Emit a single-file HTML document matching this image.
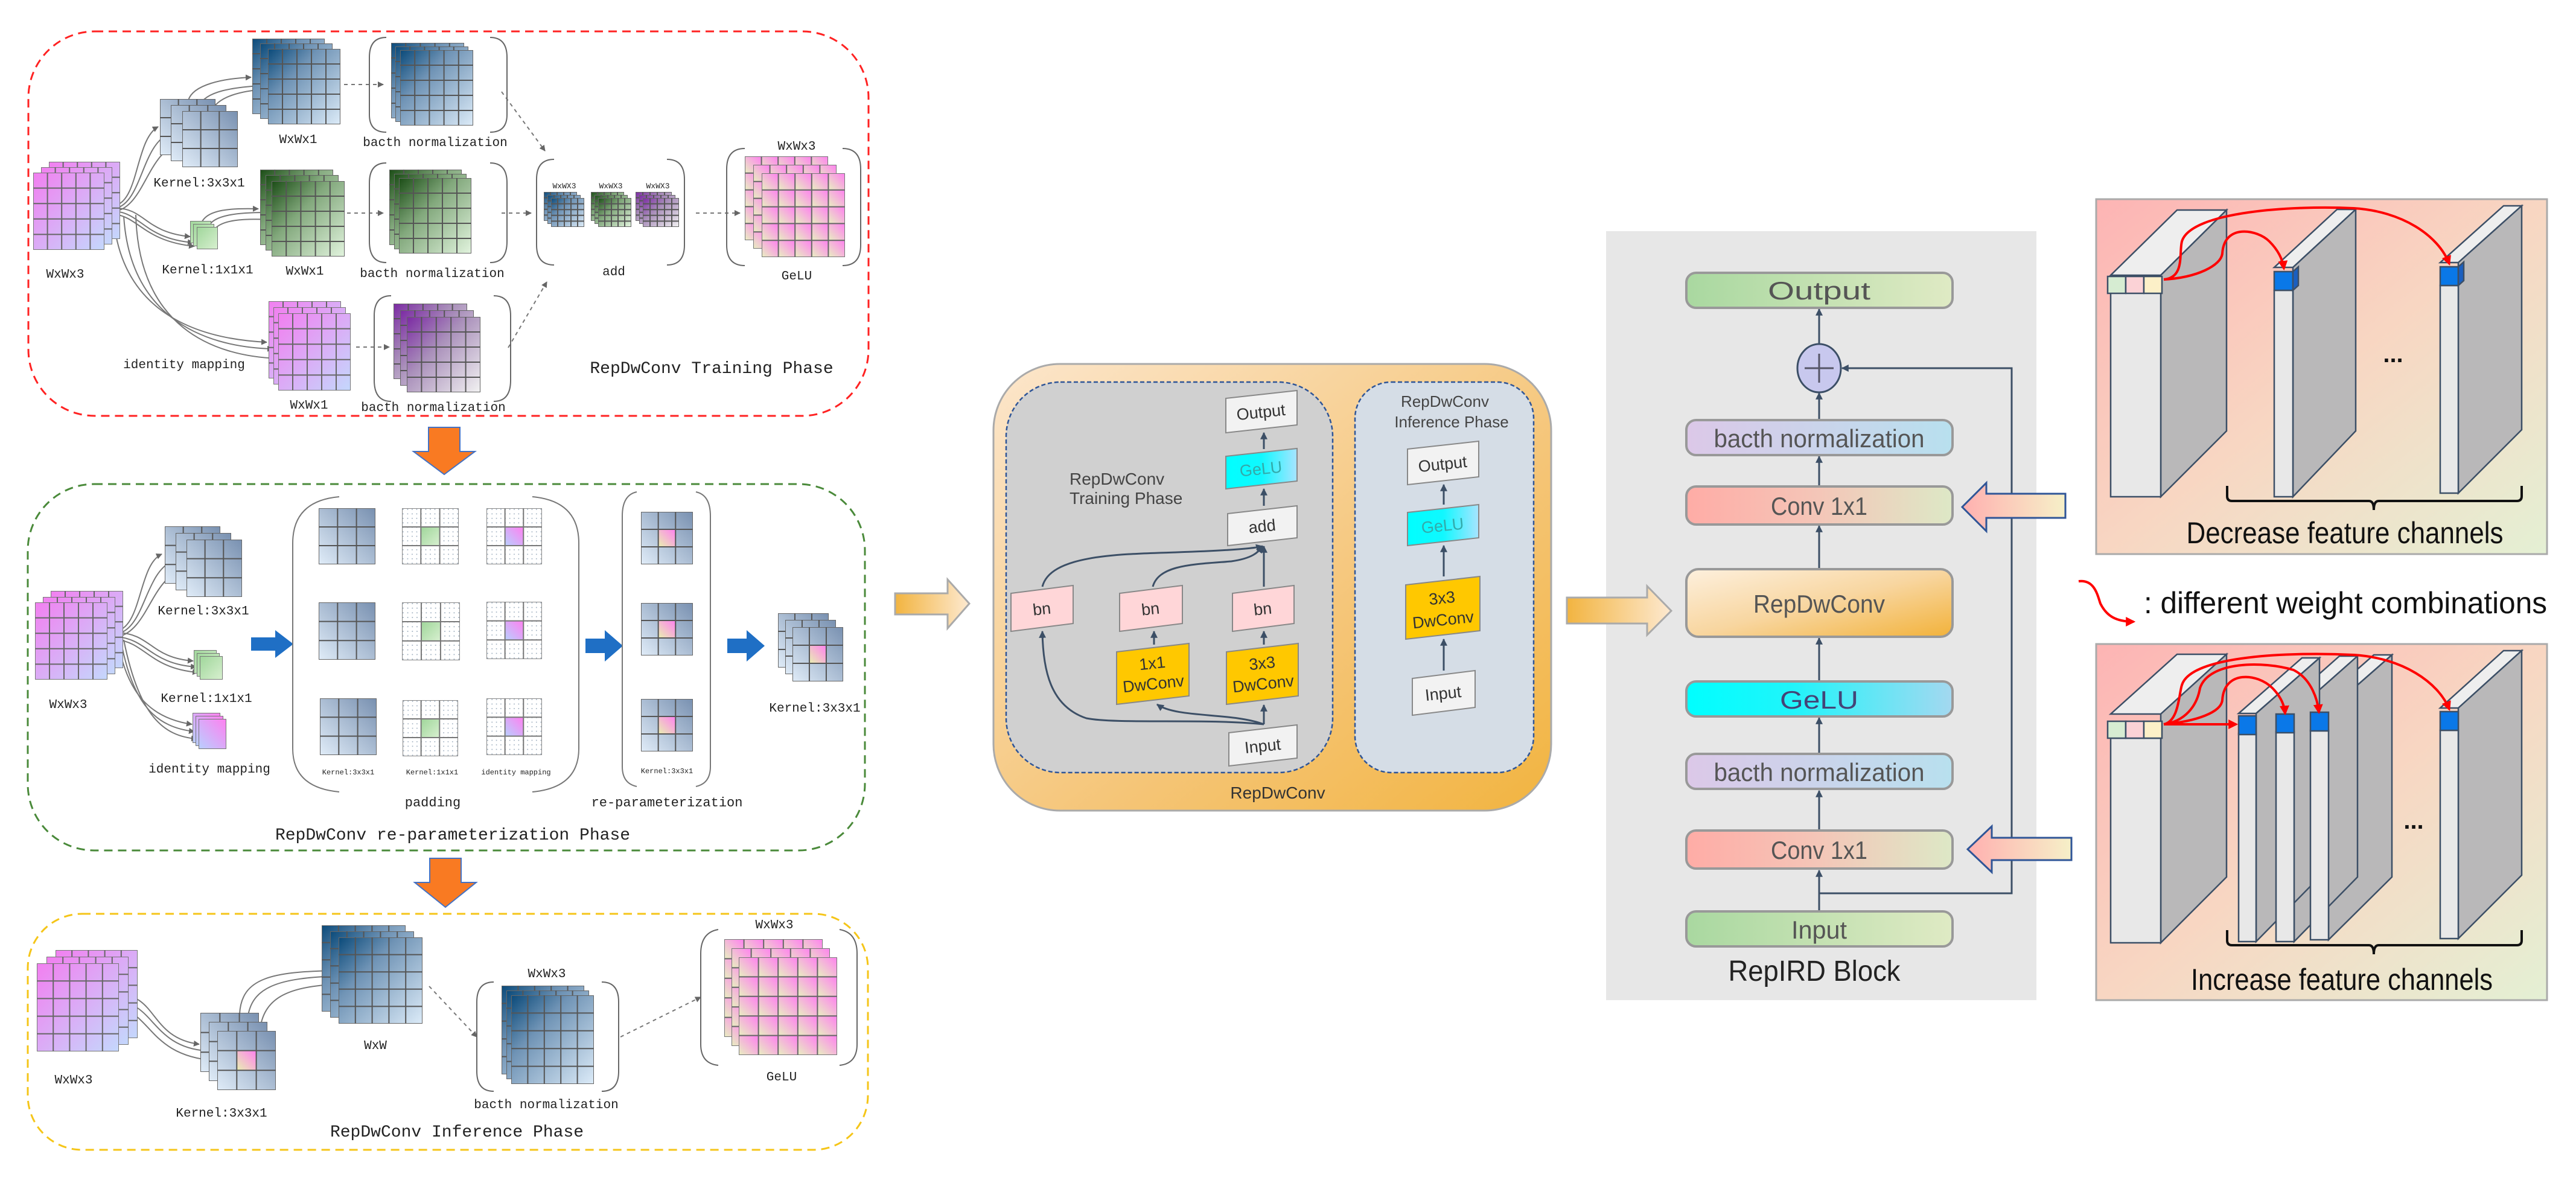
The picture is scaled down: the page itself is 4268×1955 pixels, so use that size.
<!DOCTYPE html>
<html><head><meta charset="utf-8"><style>
html,body{margin:0;padding:0;background:#fff}
svg{display:block}
.m{font-family:"Liberation Mono",monospace;fill:#222}
.s{font-family:"Liberation Sans",sans-serif}
</style></head><body>
<svg width="4268" height="1955" viewBox="0 0 4268 1955" xmlns="http://www.w3.org/2000/svg">
<defs>
<linearGradient id="gB" x1="0" y1="0" x2="1" y2="1"><stop offset="0" stop-color="#0a4a7a"/><stop offset=".35" stop-color="#6f93b5"/><stop offset="1" stop-color="#dcebf8"/></linearGradient>
<linearGradient id="gG" x1="0" y1="0" x2="1" y2="1"><stop offset="0" stop-color="#1b4d16"/><stop offset=".4" stop-color="#82a87c"/><stop offset="1" stop-color="#e2f4de"/></linearGradient>
<linearGradient id="gP" x1="0" y1="0" x2="1" y2="1"><stop offset="0" stop-color="#7b2aa3"/><stop offset=".4" stop-color="#a98fba"/><stop offset="1" stop-color="#f2f2f2"/></linearGradient>
<linearGradient id="gK" x1="0" y1="0" x2="1" y2="1"><stop offset="0" stop-color="#f27ff0"/><stop offset="1" stop-color="#c4d8fc"/></linearGradient>
<linearGradient id="gL" x1="1" y1="0" x2="0" y2="1"><stop offset="0" stop-color="#7890b0"/><stop offset="1" stop-color="#e0ecf8"/></linearGradient>
<linearGradient id="gC" x1="1" y1="0" x2="0" y2="1"><stop offset="0" stop-color="#ff80f0"/><stop offset="1" stop-color="#e8f0b0"/></linearGradient>
<linearGradient id="gGr" x1="0" y1="0" x2="1" y2="1"><stop offset="0" stop-color="#9fd69a"/><stop offset="1" stop-color="#d8f0d0"/></linearGradient>
<linearGradient id="gCp" x1="1" y1="0" x2="0" y2="1"><stop offset="0" stop-color="#ff80f0"/><stop offset="1" stop-color="#b8d0ff"/></linearGradient>
<linearGradient id="gYc" x1="1" y1="0" x2="0" y2="1"><stop offset="0" stop-color="#ff80f0"/><stop offset="1" stop-color="#e8f0c0"/></linearGradient>
<pattern id="pDot" patternUnits="userSpaceOnUse" width="8" height="8"><rect width="8" height="8" fill="#fff"/><circle cx="2" cy="2" r="1" fill="#9ab"/></pattern>
<symbol id="c5" viewBox="0 0 20 20" preserveAspectRatio="none"><rect width="20" height="20" fill="url(#gYc)"/></symbol>
<symbol id="gb" viewBox="0 0 100 100" preserveAspectRatio="none"><rect width="100" height="100" fill="url(#gB)" stroke="#666" stroke-width="2" vector-effect="non-scaling-stroke"/><path d="M20 0V100M40 0V100M60 0V100M80 0V100M0 20H100M0 40H100M0 60H100M0 80H100" stroke="#555" stroke-width="2" vector-effect="non-scaling-stroke"/></symbol>
<symbol id="gg" viewBox="0 0 100 100" preserveAspectRatio="none"><rect width="100" height="100" fill="url(#gG)" stroke="#666" stroke-width="2" vector-effect="non-scaling-stroke"/><path d="M20 0V100M40 0V100M60 0V100M80 0V100M0 20H100M0 40H100M0 60H100M0 80H100" stroke="#555" stroke-width="2" vector-effect="non-scaling-stroke"/></symbol>
<symbol id="gp" viewBox="0 0 100 100" preserveAspectRatio="none"><rect width="100" height="100" fill="url(#gP)" stroke="#666" stroke-width="2" vector-effect="non-scaling-stroke"/><path d="M20 0V100M40 0V100M60 0V100M80 0V100M0 20H100M0 40H100M0 60H100M0 80H100" stroke="#555" stroke-width="2" vector-effect="non-scaling-stroke"/></symbol>
<symbol id="gk" viewBox="0 0 100 100" preserveAspectRatio="none"><rect width="100" height="100" fill="url(#gK)" stroke="#777" stroke-width="2" vector-effect="non-scaling-stroke"/><path d="M20 0V100M40 0V100M60 0V100M80 0V100M0 20H100M0 40H100M0 60H100M0 80H100" stroke="#666" stroke-width="2" vector-effect="non-scaling-stroke"/></symbol>
<symbol id="gy" viewBox="0 0 100 100" preserveAspectRatio="none"><rect width="100" height="100" fill="#eee"/>
<use href="#c5" x="0" y="0" width="20" height="20"/><use href="#c5" x="20" y="0" width="20" height="20"/><use href="#c5" x="40" y="0" width="20" height="20"/><use href="#c5" x="60" y="0" width="20" height="20"/><use href="#c5" x="80" y="0" width="20" height="20"/>
<use href="#c5" x="0" y="20" width="20" height="20"/><use href="#c5" x="20" y="20" width="20" height="20"/><use href="#c5" x="40" y="20" width="20" height="20"/><use href="#c5" x="60" y="20" width="20" height="20"/><use href="#c5" x="80" y="20" width="20" height="20"/>
<use href="#c5" x="0" y="40" width="20" height="20"/><use href="#c5" x="20" y="40" width="20" height="20"/><use href="#c5" x="40" y="40" width="20" height="20"/><use href="#c5" x="60" y="40" width="20" height="20"/><use href="#c5" x="80" y="40" width="20" height="20"/>
<use href="#c5" x="0" y="60" width="20" height="20"/><use href="#c5" x="20" y="60" width="20" height="20"/><use href="#c5" x="40" y="60" width="20" height="20"/><use href="#c5" x="60" y="60" width="20" height="20"/><use href="#c5" x="80" y="60" width="20" height="20"/>
<use href="#c5" x="0" y="80" width="20" height="20"/><use href="#c5" x="20" y="80" width="20" height="20"/><use href="#c5" x="40" y="80" width="20" height="20"/><use href="#c5" x="60" y="80" width="20" height="20"/><use href="#c5" x="80" y="80" width="20" height="20"/>
<rect width="100" height="100" fill="none" stroke="#777" stroke-width="2" vector-effect="non-scaling-stroke"/><path d="M20 0V100M40 0V100M60 0V100M80 0V100M0 20H100M0 40H100M0 60H100M0 80H100" stroke="#666" stroke-width="2" vector-effect="non-scaling-stroke"/></symbol>
<symbol id="g3" viewBox="0 0 100 100" preserveAspectRatio="none"><rect width="100" height="100" fill="url(#gL)" stroke="#666" stroke-width="2" vector-effect="non-scaling-stroke"/><path d="M33.3 0V100M66.6 0V100M0 33.3H100M0 66.6H100" stroke="#555" stroke-width="2" vector-effect="non-scaling-stroke"/></symbol>
<symbol id="g3c" viewBox="0 0 100 100" preserveAspectRatio="none"><rect width="100" height="100" fill="url(#gL)" stroke="#666" stroke-width="2" vector-effect="non-scaling-stroke"/><rect x="33.3" y="33.3" width="33.3" height="33.3" fill="url(#gC)"/><path d="M33.3 0V100M66.6 0V100M0 33.3H100M0 66.6H100" stroke="#555" stroke-width="2" vector-effect="non-scaling-stroke"/></symbol>
<symbol id="g3g" viewBox="0 0 100 100" preserveAspectRatio="none"><rect width="100" height="100" fill="url(#pDot)" stroke="#888" stroke-width="2" vector-effect="non-scaling-stroke"/><rect x="33.3" y="33.3" width="33.3" height="33.3" fill="url(#gGr)"/><path d="M33.3 0V100M66.6 0V100M0 33.3H100M0 66.6H100" stroke="#777" stroke-width="2" vector-effect="non-scaling-stroke"/></symbol>
<symbol id="g3p" viewBox="0 0 100 100" preserveAspectRatio="none"><rect width="100" height="100" fill="url(#pDot)" stroke="#888" stroke-width="2" vector-effect="non-scaling-stroke"/><rect x="33.3" y="33.3" width="33.3" height="33.3" fill="url(#gCp)"/><path d="M33.3 0V100M66.6 0V100M0 33.3H100M0 66.6H100" stroke="#777" stroke-width="2" vector-effect="non-scaling-stroke"/></symbol>
<symbol id="g1g" viewBox="0 0 100 100" preserveAspectRatio="none"><rect width="100" height="100" fill="url(#gGr)" stroke="#777" stroke-width="2" vector-effect="non-scaling-stroke"/></symbol>
<symbol id="g1p" viewBox="0 0 100 100" preserveAspectRatio="none"><rect width="100" height="100" fill="url(#gCp)" stroke="#777" stroke-width="2" vector-effect="non-scaling-stroke"/></symbol>
<marker id="ag" viewBox="0 0 10 10" refX="9" refY="5" markerWidth="5" markerHeight="5" orient="auto"><path d="M0 0L10 5L0 10z" fill="#666"/></marker>
<marker id="ad" viewBox="0 0 10 10" refX="9" refY="5" markerWidth="4" markerHeight="4" orient="auto"><path d="M0 0L10 5L0 10z" fill="#3c4f66"/></marker>
<marker id="ar" viewBox="0 0 10 10" refX="8" refY="5" markerWidth="4" markerHeight="4" orient="auto"><path d="M0 0L10 5L0 10z" fill="#f00"/></marker>
<linearGradient id="gOr" x1="0" y1="0" x2="1" y2="1"><stop offset="0" stop-color="#fce6cc"/><stop offset=".6" stop-color="#f5c577"/><stop offset="1" stop-color="#f2b440"/></linearGradient>
<linearGradient id="gArr" x1="0" y1="0" x2="1" y2="0"><stop offset="0" stop-color="#f2b440"/><stop offset="1" stop-color="#fde9d0"/></linearGradient>
<linearGradient id="gArrL" x1="0" y1="0" x2="1" y2="0"><stop offset="0" stop-color="#ffb0b0"/><stop offset="1" stop-color="#f6f0c8"/></linearGradient>
<linearGradient id="bOut" x1="0" y1="0" x2="1" y2="0"><stop offset="0" stop-color="#a9d8a0"/><stop offset="1" stop-color="#dfeac4"/></linearGradient>
<linearGradient id="bBn" x1="0" y1="0" x2="1" y2="0"><stop offset="0" stop-color="#dcc8e8"/><stop offset="1" stop-color="#b8e0ee"/></linearGradient>
<linearGradient id="bCv" x1="0" y1="0" x2="1" y2="0"><stop offset="0" stop-color="#ffaca6"/><stop offset=".5" stop-color="#f4c6b8"/><stop offset="1" stop-color="#dde8c6"/></linearGradient>
<linearGradient id="bRep" x1="0" y1="0" x2="1" y2="1"><stop offset="0" stop-color="#fdf0de"/><stop offset=".5" stop-color="#f8d6a0"/><stop offset="1" stop-color="#f2b23a"/></linearGradient>
<linearGradient id="bGe" x1="0" y1="0" x2="1" y2="0"><stop offset="0" stop-color="#00ffff"/><stop offset=".4" stop-color="#20f4fa"/><stop offset="1" stop-color="#a4d8f0"/></linearGradient>
<linearGradient id="sGe" x1="0" y1="0" x2="1" y2="0"><stop offset="0" stop-color="#00ffff"/><stop offset=".5" stop-color="#10f8ff"/><stop offset="1" stop-color="#a8e4ff"/></linearGradient>
<linearGradient id="gPan" x1="0" y1="0" x2="1" y2="1"><stop offset="0" stop-color="#fdb4b4"/><stop offset=".5" stop-color="#f8d6c2"/><stop offset="1" stop-color="#e4f0d4"/></linearGradient>
</defs>

<!-- ============ LEFT: training ============ -->
<rect x="47" y="52" width="1392" height="637" rx="110" fill="none" stroke="#f22" stroke-width="3" stroke-dasharray="14 9"/>
<g fill="none" stroke="#777" stroke-width="2" marker-end="url(#ag)">
<path d="M192 340 C230 330 225 230 262 210"/>
<path d="M192 345 C235 335 235 240 280 222"/>
<path d="M192 350 C240 340 245 250 298 238"/>
<path d="M192 345 C240 345 240 385 315 392"/>
<path d="M192 350 C235 355 240 395 320 402"/>
<path d="M190 355 C230 360 240 400 322 408"/>
<path d="M312 166 C320 140 370 130 416 128"/>
<path d="M330 176 C340 150 390 145 428 142"/>
<path d="M350 185 C360 160 400 150 442 148"/>
<path d="M333 372 C340 345 390 345 428 346"/>
<path d="M345 378 C350 355 400 352 440 352"/>
<path d="M352 386 C360 362 410 362 450 364"/>
<path d="M188 360 C200 500 300 560 442 567"/>
<path d="M205 358 C215 520 330 575 452 578"/>
<path d="M225 356 C230 540 350 590 461 594"/>
</g>
<g fill="none" stroke="#777" stroke-width="2" stroke-dasharray="6 6" marker-end="url(#ag)">
<path d="M570 140 H635"/><path d="M575 353 H635"/><path d="M590 575 H645"/>
<path d="M831 152 L903 250"/><path d="M831 353 H880"/><path d="M842 576 L906 467"/>
<path d="M1153 353 H1226"/>
</g>
<use href="#gk" x="81" y="268" width="118" height="128"/><use href="#gk" x="68" y="277" width="118" height="128"/><use href="#gk" x="55" y="286" width="118" height="128"/>
<text class="m" x="108" y="460" font-size="21" text-anchor="middle">WxWx3</text>
<use href="#g3" x="265" y="164" width="92" height="93"/><use href="#g3" x="283" y="174" width="92" height="93"/><use href="#g3" x="302" y="184" width="92" height="93"/>
<text class="m" x="330" y="309" font-size="21" text-anchor="middle">Kernel:3x3x1</text>
<use href="#gb" x="418" y="64" width="120" height="125"/><use href="#gb" x="431" y="72" width="120" height="125"/><use href="#gb" x="444" y="81" width="120" height="125"/>
<text class="m" x="494" y="237" font-size="21" text-anchor="middle">WxWx1</text>
<path d="M640 62 Q612 62 612 95 V190 Q612 219 640 219 M812 62 Q840 62 840 95 V190 Q840 219 812 219" fill="none" stroke="#666" stroke-width="2"/>
<use href="#gb" x="648" y="71" width="121" height="125"/><use href="#gb" x="655" y="77" width="121" height="125"/><use href="#gb" x="663" y="83" width="121" height="125"/>
<text class="m" x="721" y="242" font-size="21" text-anchor="middle">bacth normalization</text>
<use href="#g1g" x="315" y="366" width="35" height="37"/><use href="#g1g" x="320" y="371" width="35" height="37"/><use href="#g1g" x="326" y="376" width="35" height="37"/>
<text class="m" x="344" y="453" font-size="21" text-anchor="middle">Kernel:1x1x1</text>
<use href="#gg" x="431" y="281" width="121" height="125"/><use href="#gg" x="440" y="290" width="121" height="125"/><use href="#gg" x="450" y="300" width="121" height="125"/>
<text class="m" x="505" y="455" font-size="21" text-anchor="middle">WxWx1</text>
<path d="M640 270 Q612 270 612 303 V400 Q612 435 640 435 M812 270 Q840 270 840 303 V400 Q840 435 812 435" fill="none" stroke="#666" stroke-width="2"/>
<use href="#gg" x="645" y="281" width="120" height="125"/><use href="#gg" x="653" y="288" width="120" height="125"/><use href="#gg" x="661" y="295" width="120" height="125"/>
<text class="m" x="716" y="459" font-size="21" text-anchor="middle">bacth normalization</text>
<use href="#gk" x="445" y="499" width="120" height="128"/><use href="#gk" x="453" y="509" width="120" height="128"/><use href="#gk" x="461" y="519" width="120" height="128"/>
<text class="m" x="305" y="610" font-size="21" text-anchor="middle">identity mapping</text>
<text class="m" x="512" y="677" font-size="21" text-anchor="middle">WxWx1</text>
<path d="M648 490 Q620 490 620 523 V630 Q620 665 648 665 M818 490 Q846 490 846 523 V630 Q846 665 818 665" fill="none" stroke="#666" stroke-width="2"/>
<use href="#gp" x="652" y="503" width="122" height="125"/><use href="#gp" x="663" y="514" width="122" height="125"/><use href="#gp" x="674" y="525" width="122" height="125"/>
<text class="m" x="718" y="681" font-size="21" text-anchor="middle">bacth normalization</text>
<path d="M918 264 Q889 264 889 297 V406 Q889 439 918 439 M1105 264 Q1134 264 1134 297 V406 Q1134 439 1105 439" fill="none" stroke="#666" stroke-width="2"/>
<text class="m" x="935" y="312" font-size="13" text-anchor="middle">WxWX3</text>
<text class="m" x="1012" y="312" font-size="13" text-anchor="middle">WxWX3</text>
<text class="m" x="1090" y="312" font-size="13" text-anchor="middle">WxWX3</text>
<use href="#gb" x="901" y="318" width="55" height="48"/><use href="#gb" x="907" y="323" width="55" height="48"/><use href="#gb" x="913" y="328" width="55" height="48"/>
<use href="#gg" x="979" y="318" width="55" height="48"/><use href="#gg" x="985" y="323" width="55" height="48"/><use href="#gg" x="991" y="328" width="55" height="48"/>
<use href="#gp" x="1053" y="318" width="60" height="48"/><use href="#gp" x="1059" y="323" width="60" height="48"/><use href="#gp" x="1065" y="328" width="60" height="48"/>
<text class="m" x="1017" y="456" font-size="21" text-anchor="middle">add</text>
<path d="M1234 246 Q1204 246 1204 280 V406 Q1204 440 1234 440 M1396 246 Q1426 246 1426 280 V406 Q1426 440 1396 440" fill="none" stroke="#666" stroke-width="2"/>
<use href="#gy" x="1234" y="259" width="138" height="139"/><use href="#gy" x="1248" y="273" width="138" height="139"/><use href="#gy" x="1262" y="287" width="138" height="139"/>
<text class="m" x="1320" y="248" font-size="21" text-anchor="middle">WxWx3</text>
<text class="m" x="1320" y="463" font-size="21" text-anchor="middle">GeLU</text>
<text class="m" x="1179" y="618" font-size="28" text-anchor="middle">RepDwConv Training Phase</text>

<path d="M710 708 H762 V748 H787 L736 786 L685 748 H710 Z" fill="#f97a22" stroke="#4472c4" stroke-width="2"/>
<path d="M712 1422 H764 V1462 H789 L738 1503 L687 1462 H712 Z" fill="#f97a22" stroke="#4472c4" stroke-width="2"/>

<!-- ============ re-param ============ -->
<rect x="46" y="802" width="1387" height="607" rx="110" fill="none" stroke="#4a8a3a" stroke-width="3" stroke-dasharray="14 9"/>
<g fill="none" stroke="#777" stroke-width="2" marker-end="url(#ag)">
<path d="M195 1045 C235 1035 230 935 268 918"/>
<path d="M195 1050 C240 1040 240 950 285 930"/>
<path d="M195 1055 C245 1045 250 960 302 944"/>
<path d="M195 1048 C250 1050 250 1090 320 1095"/>
<path d="M195 1055 C245 1060 250 1100 325 1105"/>
<path d="M195 1060 C240 1065 250 1108 328 1114"/>
<path d="M195 1060 C210 1150 250 1190 318 1200"/>
<path d="M200 1060 C220 1170 260 1205 322 1212"/>
<path d="M205 1060 C230 1185 270 1220 326 1224"/>
</g>
<use href="#gk" x="84" y="979" width="120" height="128"/><use href="#gk" x="71" y="989" width="120" height="128"/><use href="#gk" x="58" y="998" width="120" height="128"/>
<text class="m" x="113" y="1173" font-size="21" text-anchor="middle">WxWx3</text>
<use href="#g3" x="273" y="872" width="92" height="95"/><use href="#g3" x="291" y="883" width="92" height="95"/><use href="#g3" x="309" y="894" width="92" height="95"/>
<text class="m" x="337" y="1018" font-size="21" text-anchor="middle">Kernel:3x3x1</text>
<use href="#g1g" x="321" y="1077" width="38" height="39"/><use href="#g1g" x="326" y="1082" width="38" height="39"/><use href="#g1g" x="331" y="1087" width="38" height="39"/>
<text class="m" x="342" y="1163" font-size="21" text-anchor="middle">Kernel:1x1x1</text>
<use href="#g1p" x="319" y="1181" width="46" height="50"/><use href="#g1p" x="324" y="1186" width="46" height="50"/><use href="#g1p" x="329" y="1191" width="46" height="50"/>
<text class="m" x="347" y="1280" font-size="21" text-anchor="middle">identity mapping</text>
<path d="M416 1056 H456 V1044 L486 1067 L456 1090 V1078 H416 Z" fill="#1f6fc5"/>
<path d="M970 1058 H1002 V1044 L1032 1070 L1002 1096 V1082 H970 Z" fill="#1f6fc5"/>
<path d="M1205 1058 H1237 V1044 L1267 1070 L1237 1096 V1082 H1205 Z" fill="#1f6fc5"/>
<path d="M562 823 Q485 830 485 900 V1240 Q485 1305 562 1312 M882 823 Q959 830 959 900 V1240 Q959 1305 882 1312" fill="none" stroke="#777" stroke-width="2"/>
<use href="#g3" x="528" y="842" width="94" height="93"/><use href="#g3g" x="666" y="842" width="94" height="93"/><use href="#g3p" x="806" y="842" width="92" height="93"/>
<use href="#g3" x="528" y="998" width="94" height="95"/><use href="#g3g" x="666" y="998" width="96" height="96"/><use href="#g3p" x="806" y="997" width="92" height="95"/>
<use href="#g3" x="530" y="1157" width="94" height="94"/><use href="#g3g" x="667" y="1160" width="92" height="93"/><use href="#g3p" x="806" y="1157" width="92" height="94"/>
<text class="m" x="577" y="1283" font-size="12" text-anchor="middle">Kernel:3x3x1</text>
<text class="m" x="716" y="1283" font-size="12" text-anchor="middle">Kernel:1x1x1</text>
<text class="m" x="855" y="1283" font-size="12" text-anchor="middle">identity mapping</text>
<text class="m" x="717" y="1336" font-size="22" text-anchor="middle">padding</text>
<path d="M1055 815 Q1031 820 1031 855 V1270 Q1031 1298 1055 1303 M1153 815 Q1177 820 1177 855 V1270 Q1177 1298 1153 1303" fill="none" stroke="#777" stroke-width="2"/>
<use href="#g3c" x="1062" y="848" width="86" height="87"/><use href="#g3c" x="1062" y="999" width="86" height="87"/><use href="#g3c" x="1062" y="1158" width="86" height="87"/>
<text class="m" x="1105" y="1281" font-size="12" text-anchor="middle">Kernel:3x3x1</text>
<text class="m" x="1105" y="1336" font-size="22" text-anchor="middle">re-parameterization</text>
<use href="#g3" x="1289" y="1016" width="84" height="90"/><use href="#g3" x="1301" y="1027" width="84" height="90"/><use href="#g3c" x="1313" y="1039" width="84" height="90"/>
<text class="m" x="1350" y="1179" font-size="21" text-anchor="middle">Kernel:3x3x1</text>
<text class="m" x="750" y="1391" font-size="28" text-anchor="middle">RepDwConv re-parameterization Phase</text>

<!-- ============ inference ============ -->
<rect x="46" y="1514" width="1392" height="391" rx="90" fill="none" stroke="#f5c518" stroke-width="3" stroke-dasharray="14 9"/>
<g fill="none" stroke="#777" stroke-width="2" marker-end="url(#ag)">
<path d="M200 1648 C260 1650 250 1720 330 1730"/>
<path d="M200 1660 C255 1665 255 1735 342 1741"/>
<path d="M200 1672 C250 1680 250 1750 356 1757"/>
<path d="M397 1680 C400 1620 450 1610 555 1608"/>
<path d="M410 1690 C415 1635 460 1620 562 1617"/>
<path d="M430 1712 C435 1650 480 1633 572 1630"/>
</g>
<g fill="none" stroke="#777" stroke-width="2" stroke-dasharray="6 6" marker-end="url(#ag)">
<path d="M711 1634 L790 1718"/><path d="M1028 1718 L1161 1652"/>
</g>
<use href="#gk" x="92" y="1574" width="136" height="146"/><use href="#gk" x="77" y="1585" width="136" height="146"/><use href="#gk" x="61" y="1596" width="136" height="146"/>
<text class="m" x="122" y="1795" font-size="21" text-anchor="middle">WxWx3</text>
<use href="#g3" x="332" y="1678" width="97" height="98"/><use href="#g3" x="346" y="1693" width="97" height="98"/><use href="#g3c" x="360" y="1708" width="97" height="98"/>
<text class="m" x="367" y="1850" font-size="21" text-anchor="middle">Kernel:3x3x1</text>
<use href="#gb" x="533" y="1533" width="139" height="143"/><use href="#gb" x="547" y="1543" width="139" height="143"/><use href="#gb" x="561" y="1553" width="139" height="143"/>
<text class="m" x="622" y="1738" font-size="21" text-anchor="middle">WxW</text>
<path d="M818 1627 Q790 1627 790 1660 V1775 Q790 1808 818 1808 M997 1627 Q1025 1627 1025 1660 V1775 Q1025 1808 997 1808" fill="none" stroke="#666" stroke-width="2"/>
<use href="#gb" x="831" y="1633" width="137" height="147"/><use href="#gb" x="839" y="1641" width="137" height="147"/><use href="#gb" x="847" y="1649" width="137" height="147"/>
<text class="m" x="906" y="1619" font-size="21" text-anchor="middle">WxWx3</text>
<text class="m" x="905" y="1836" font-size="21" text-anchor="middle">bacth normalization</text>
<path d="M1190 1540 Q1161 1545 1161 1580 V1730 Q1161 1762 1190 1765 M1391 1540 Q1420 1545 1420 1580 V1730 Q1420 1762 1391 1765" fill="none" stroke="#666" stroke-width="2"/>
<use href="#gy" x="1200" y="1556" width="163" height="162"/><use href="#gy" x="1212" y="1571" width="163" height="162"/><use href="#gy" x="1224" y="1586" width="163" height="162"/>
<text class="m" x="1283" y="1538" font-size="21" text-anchor="middle">WxWx3</text>
<text class="m" x="1295" y="1790" font-size="21" text-anchor="middle">GeLU</text>
<text class="m" x="757" y="1883" font-size="28" text-anchor="middle">RepDwConv Inference Phase</text>

<path d="M1483 983 H1570 V960 L1606 1000 L1570 1041 V1018 H1483 Z" fill="url(#gArr)" stroke="#aaa" stroke-width="3"/>

<!-- ============ MIDDLE ============ -->
<rect x="1646" y="603" width="924" height="740" rx="110" fill="url(#gOr)" stroke="#aaa" stroke-width="3"/>
<rect x="1667" y="633" width="541" height="647" rx="90" fill="#d0d0d0" stroke="#2f5597" stroke-width="2.5" stroke-dasharray="7 4"/>
<rect x="2245" y="633" width="296" height="647" rx="60" fill="#d5dde6" stroke="#2f5597" stroke-width="2.5" stroke-dasharray="7 4"/>
<text class="s" x="2117" y="1323" font-size="28" text-anchor="middle" fill="#333">RepDwConv</text>
<text class="s" x="1772" y="803" font-size="28" fill="#444">RepDwConv</text>
<text class="s" x="1772" y="835" font-size="28" fill="#444">Training Phase</text>
<text class="s" x="2394" y="674" font-size="26" text-anchor="middle" fill="#444">RepDwConv</text>
<text class="s" x="2405" y="708" font-size="26" text-anchor="middle" fill="#444">Inference Phase</text>
<g fill="none" stroke="#3c4f66" stroke-width="3" marker-end="url(#ad)">
<path d="M2094 1200 V1168"/><path d="M2094 1200 C2040 1180 1950 1190 1917 1167"/>
<path d="M2094 1200 C2000 1190 1850 1200 1800 1190 C1740 1170 1728 1110 1727 1046"/>
<path d="M1912 1068 V1046"/><path d="M2094 1068 V1046"/>
<path d="M2094 972 V905"/>
<path d="M1727 972 C1740 920 1850 918 1950 915 C2040 912 2080 908 2092 905"/>
<path d="M1910 972 C1920 935 1980 935 2040 930 C2075 925 2085 915 2092 905"/>
<path d="M2094 838 V810"/><path d="M2094 744 V717"/>
<path d="M2392 1111 V1059"/><path d="M2392 955 V904"/><path d="M2392 836 V803"/>
</g>
<g stroke="#888" stroke-width="2">
<polygon points="2031,660 2149,647 2149,704 2031,717" fill="#f2f2f2"/>
<polygon points="2031,756 2149,743 2149,797 2031,810" fill="url(#sGe)"/>
<polygon points="2034,851 2149,838 2149,891 2034,904" fill="#f2f2f2"/>
<polygon points="1675,983 1778,970 1778,1033 1675,1046" fill="#ffd6d8"/>
<polygon points="1855,983 1959,970 1959,1033 1855,1046" fill="#ffd6d8"/>
<polygon points="2042,983 2144,970 2144,1033 2042,1046" fill="#ffd6d8"/>
<polygon points="1850,1080 1970,1066 1970,1153 1850,1167" fill="#ffc800"/>
<polygon points="2032,1080 2151,1066 2151,1153 2032,1167" fill="#ffc800"/>
<polygon points="2036,1214 2149,1201 2149,1256 2036,1269" fill="#f2f2f2"/>
<polygon points="2332,744 2450,731 2450,790 2332,803" fill="#f2f2f2"/>
<polygon points="2332,849 2450,836 2450,891 2332,904" fill="url(#sGe)"/>
<polygon points="2329,969 2452,955 2452,1045 2329,1059" fill="#ffc800"/>
<polygon points="2340,1124 2444,1111 2444,1172 2340,1185" fill="#f2f2f2"/>
</g>
<g class="s" font-size="27" fill="#333" text-anchor="middle">
<text transform="translate(2090,692) rotate(-6)">Output</text>
<text transform="translate(2090,786) rotate(-6)" fill="#3aa">GeLU</text>
<text transform="translate(2092,881) rotate(-6)">add</text>
<text transform="translate(1727,1018) rotate(-6)">bn</text>
<text transform="translate(1907,1018) rotate(-6)">bn</text>
<text transform="translate(2093,1018) rotate(-6)">bn</text>
<text transform="translate(1910,1108) rotate(-6)">1x1</text>
<text transform="translate(1912,1142) rotate(-6)">DwConv</text>
<text transform="translate(2092,1108) rotate(-6)">3x3</text>
<text transform="translate(2094,1142) rotate(-6)">DwConv</text>
<text transform="translate(2093,1245) rotate(-6)">Input</text>
<text transform="translate(2391,778) rotate(-6)">Output</text>
<text transform="translate(2391,880) rotate(-6)" fill="#3aa">GeLU</text>
<text transform="translate(2390,1000) rotate(-6)">3x3</text>
<text transform="translate(2392,1036) rotate(-6)">DwConv</text>
<text transform="translate(2392,1158) rotate(-6)">Input</text>
</g>

<!-- ============ RepIRD ============ -->
<rect x="2661" y="383" width="713" height="1274" fill="#e7e7e7"/>
<!-- arrow mid->right (on top of panel) -->
<path d="M2596 990 H2729 V971 L2769 1012 L2729 1052 V1033 H2596 Z" fill="url(#gArr)" stroke="#aaa" stroke-width="3"/>
<g fill="none" stroke="#3c4f66" stroke-width="3">
<path d="M3014 1510 V1442" marker-end="url(#ad)"/>
<path d="M3014 1480 H3333 V610 H3052" marker-end="url(#ad)"/>
<path d="M3014 1376 V1310" marker-end="url(#ad)"/>
<path d="M3014 1249 V1189" marker-end="url(#ad)"/>
<path d="M3014 1129 V1057" marker-end="url(#ad)"/>
<path d="M3014 943 V871" marker-end="url(#ad)"/>
<path d="M3014 806 V756" marker-end="url(#ad)"/>
<path d="M3014 696 V651" marker-end="url(#ad)"/>
<path d="M3014 570 V512" marker-end="url(#ad)"/>
</g>
<g stroke="#999" stroke-width="4">
<rect x="2794" y="452" width="441" height="58" rx="16" fill="url(#bOut)"/>
<rect x="2794" y="696" width="441" height="58" rx="16" fill="url(#bBn)"/>
<rect x="2794" y="806" width="441" height="63" rx="16" fill="url(#bCv)"/>
<rect x="2794" y="943" width="441" height="112" rx="20" fill="url(#bRep)"/>
<rect x="2794" y="1129" width="441" height="58" rx="16" fill="url(#bGe)"/>
<rect x="2794" y="1249" width="441" height="58" rx="16" fill="url(#bBn)"/>
<rect x="2794" y="1376" width="441" height="63" rx="16" fill="url(#bCv)"/>
<rect x="2794" y="1510" width="441" height="58" rx="16" fill="url(#bOut)"/>
</g>
<ellipse cx="3014" cy="610" rx="36" ry="40" fill="#c8c8ee" stroke="#3c4f66" stroke-width="3"/>
<path d="M2990 610 H3038 M3014 586 V634" stroke="#556" stroke-width="3"/>
<g class="s" fill="#555" text-anchor="middle" font-size="42">
<text x="3014" y="496" textLength="170" lengthAdjust="spacingAndGlyphs">Output</text>
<text x="3014" y="741" textLength="349" lengthAdjust="spacingAndGlyphs">bacth normalization</text>
<text x="3014" y="853" textLength="160" lengthAdjust="spacingAndGlyphs">Conv 1x1</text>
<text x="3014" y="1015" textLength="218" lengthAdjust="spacingAndGlyphs">RepDwConv</text>
<text x="3014" y="1174" textLength="130" lengthAdjust="spacingAndGlyphs" fill="#447">GeLU</text>
<text x="3014" y="1294" textLength="349" lengthAdjust="spacingAndGlyphs">bacth normalization</text>
<text x="3014" y="1423" textLength="160" lengthAdjust="spacingAndGlyphs">Conv 1x1</text>
<text x="3014" y="1555" textLength="92" lengthAdjust="spacingAndGlyphs">Input</text>
</g>
<text class="s" x="3006" y="1625" font-size="48" text-anchor="middle" fill="#222" textLength="285" lengthAdjust="spacingAndGlyphs">RepIRD Block</text>
<path d="M3422 818 H3291 V800 L3251 840 L3291 880 V858 H3422 Z" fill="url(#gArrL)" stroke="#2f5597" stroke-width="3"/>
<path d="M3432 1388 H3300 V1369 L3260 1407 L3300 1445 V1425 H3432 Z" fill="url(#gArrL)" stroke="#2f5597" stroke-width="3"/>

<!-- ============ panels ============ -->
<rect x="3473" y="330" width="747" height="588" fill="url(#gPan)" stroke="#aaa" stroke-width="3"/>
<rect x="3473" y="1067" width="747" height="590" fill="url(#gPan)" stroke="#aaa" stroke-width="3"/>
<g stroke="#3c4f66" stroke-width="2.5">
<polygon points="3497,456 3580,456 3689,348 3607,348" fill="#eee"/>
<polygon points="3580,456 3689,348 3689,714 3580,823" fill="#b9b8b9"/>
<rect x="3497" y="485" width="83" height="338" fill="#e8e8e8"/>
<rect x="3492" y="458" width="30" height="28" fill="#d6ecd2"/><rect x="3522" y="458" width="30" height="28" fill="#fbd2d6"/><rect x="3552" y="458" width="30" height="28" fill="#fcf0c8"/>
<polygon points="3768,443 3799,443 3903,347 3872,347" fill="#eee"/>
<polygon points="3799,443 3903,347 3903,714 3799,823" fill="#b9b8b9"/>
<rect x="3768" y="481" width="31" height="342" fill="#e8e8e8"/>
<rect x="3768" y="450" width="31" height="31" fill="#0a78e8"/><polygon points="3799,450 3808,442 3808,473 3799,481" fill="#1a5fc0"/>
<polygon points="4043,435 4073,435 4178,341 4148,341" fill="#eee"/>
<polygon points="4073,435 4178,341 4178,712 4073,817" fill="#b9b8b9"/>
<rect x="4043" y="473" width="30" height="344" fill="#e8e8e8"/>
<rect x="4043" y="442" width="30" height="31" fill="#0a78e8"/><polygon points="4073,442 4082,434 4082,465 4073,473" fill="#1a5fc0"/>
<polygon points="3497,1183 3580,1183 3689,1084 3607,1084" fill="#eee"/>
<polygon points="3580,1183 3689,1084 3689,1453 3580,1562" fill="#b9b8b9"/>
<rect x="3497" y="1223" width="83" height="339" fill="#e8e8e8"/>
<rect x="3492" y="1195" width="30" height="28" fill="#d6ecd2"/><rect x="3522" y="1195" width="30" height="28" fill="#fbd2d6"/><rect x="3552" y="1195" width="30" height="28" fill="#fcf0c8"/>
<polygon points="3828,1177 3858,1177 3963,1085 3933,1085" fill="#eee"/>
<polygon points="3858,1177 3963,1085 3963,1453 3858,1557" fill="#b9b8b9"/>
<polygon points="3771,1180 3801,1180 3906,1087 3876,1087" fill="#eee"/>
<polygon points="3801,1180 3906,1087 3906,1453 3801,1560" fill="#b9b8b9"/>
<polygon points="3709,1182 3738,1182 3843,1090 3814,1090" fill="#eee"/>
<polygon points="3738,1182 3843,1090 3843,1453 3738,1560" fill="#b9b8b9"/>
<rect x="3709" y="1215" width="29" height="345" fill="#e8e8e8"/>
<rect x="3709" y="1186" width="29" height="31" fill="#0a78e8"/>
<rect x="3771" y="1212" width="30" height="348" fill="#e8e8e8"/>
<rect x="3771" y="1183" width="30" height="31" fill="#0a78e8"/>
<rect x="3828" y="1210" width="30" height="347" fill="#e8e8e8"/>
<rect x="3828" y="1180" width="30" height="31" fill="#0a78e8"/>
<polygon points="4043,1173 4073,1173 4178,1078 4148,1078" fill="#eee"/>
<polygon points="4073,1173 4178,1078 4178,1450 4073,1555" fill="#b9b8b9"/>
<rect x="4043" y="1210" width="30" height="345" fill="#e8e8e8"/>
<rect x="4043" y="1179" width="30" height="31" fill="#0a78e8"/>
</g>
<g fill="none" stroke="#f00" stroke-width="4" marker-end="url(#ar)">
<path d="M3585 463 C3640 460 3680 440 3682 420 C3685 370 3740 380 3760 400 C3775 415 3782 430 3784 445"/>
<path d="M3585 463 C3620 460 3610 420 3615 400 C3630 350 3800 340 3900 345 C3980 350 4040 390 4058 437"/>
<path d="M3585 1200 H3705"/>
<path d="M3585 1200 C3640 1195 3680 1180 3682 1160 C3685 1110 3740 1115 3765 1140 C3780 1155 3785 1170 3786 1182"/>
<path d="M3585 1200 C3620 1195 3640 1170 3645 1140 C3660 1095 3750 1095 3800 1110 C3830 1125 3840 1160 3842 1180"/>
<path d="M3585 1200 C3610 1195 3610 1150 3615 1135 C3630 1085 3800 1080 3900 1085 C3980 1090 4040 1130 4058 1175"/>
<path d="M3444 963 C3470 960 3475 985 3480 1000 C3490 1020 3505 1030 3535 1030"/>
</g>
<path d="M3690 805 V822 Q3690 830 3698 830 H3925 Q3933 830 3933 845 Q3933 830 3941 830 H4170 Q4178 830 4178 822 V805" fill="none" stroke="#111" stroke-width="4"/>
<path d="M3690 1541 V1558 Q3690 1566 3698 1566 H3925 Q3933 1566 3933 1581 Q3933 1566 3941 1566 H4170 Q4178 1566 4178 1558 V1541" fill="none" stroke="#111" stroke-width="4"/>
<text class="s" x="3965" y="600" font-size="40" font-weight="bold" text-anchor="middle" fill="#111">...</text>
<text class="s" x="3999" y="1373" font-size="40" font-weight="bold" text-anchor="middle" fill="#111">...</text>
<text class="s" x="3885" y="900" font-size="50" text-anchor="middle" fill="#111" textLength="525" lengthAdjust="spacingAndGlyphs">Decrease feature channels</text>
<text class="s" x="3880" y="1640" font-size="50" text-anchor="middle" fill="#111" textLength="500" lengthAdjust="spacingAndGlyphs">Increase feature channels</text>
<text class="s" x="3552" y="1016" font-size="50" fill="#111" textLength="668" lengthAdjust="spacingAndGlyphs">: different weight combinations</text>
</svg>
</body></html>
